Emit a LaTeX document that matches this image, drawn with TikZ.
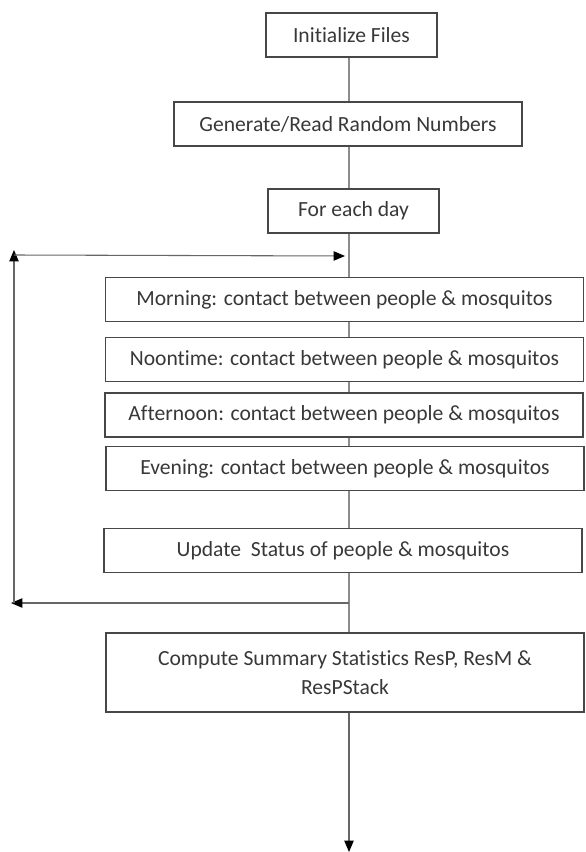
\documentclass[tikz,border=0pt]{standalone}
\usepackage{fontspec}
\setmainfont{Carlito}[Ligatures=NoCommon]
\usetikzlibrary{positioning, arrows.meta, calc}

\begin{document}
\begin{tikzpicture}[
    x=0.75pt, y=-0.75pt,
    box/.style={draw=black!72, line width=1.1pt, minimum height=33pt, inner sep=0pt,
                align=center, text=black!78, font=\fontsize{16.2}{21.7}\selectfont},
    small/.style={box, minimum width=128.25pt},
    wide/.style={box, minimum width=358.5pt},
    link/.style={draw=black!45, line width=0.8pt},
    arr/.style={-{Triangle[length=8.5pt, width=7pt, black]}, draw=black!60, line width=0.8pt},
]
\useasboundingbox (0,0) rectangle (585,852);

% top of the chart
\node[small] (init) at (351.5,35) {Initialize Files};
\node[box, minimum width=261pt] (gen) at (348,124) {Generate/Read Random Numbers};
\node[small] (day) at (353.5,211) {For each day};

% daily steps
\node[wide] (morning) at (344.5,299.5) {Morning: contact between people \& mosquitos};
\node[wide] (noon) at (344.5,359.5) {Noontime: contact between people \& mosquitos};
\node[wide] (after) at (344,415) {Afternoon: contact between people \& mosquitos};
\node[wide] (evening) at (345,468.5) {Evening: contact between people \& mosquitos};
\node[wide] (update) at (343,550.5) {Update\ \ Status of people \& mosquitos};
\node[wide, minimum height=59.25pt] (compute) at (345,672.5)
    {Compute Summary Statistics ResP, ResM \&\\ResPStack};

% spine
\coordinate (spine) at (349,0);
\draw[link] (init.south -| spine) -- (gen.north -| spine);
\draw[link] (gen.south -| spine) -- (day.north -| spine);
\draw[link] (day.south -| spine) -- (morning.north -| spine);
\draw[link] (morning.south -| spine) -- (noon.north -| spine);
\draw[link] (noon.south -| spine) -- (after.north -| spine);
\draw[link] (after.south -| spine) -- (evening.north -| spine);
\draw[link] (evening.south -| spine) -- (update.north -| spine);
\draw[link] (update.south -| spine) -- (compute.north -| spine);

% loop back to the next day
\coordinate (loopout) at (349,603);
\coordinate (botleft) at (11,603);
\coordinate (lowleft) at (14,603);
\coordinate (topleft) at (14,250);
\coordinate (upleft) at (14,255);
\coordinate (loopin) at (345,256);
\draw[arr] (loopout) -- (botleft);
\draw[arr] (lowleft) -- (topleft);
\draw[arr] (upleft) -- (loopin);

% end
\coordinate (done) at (349,852);
\draw[arr] (compute.south -| spine) -- (done);

\end{tikzpicture}
\end{document}
